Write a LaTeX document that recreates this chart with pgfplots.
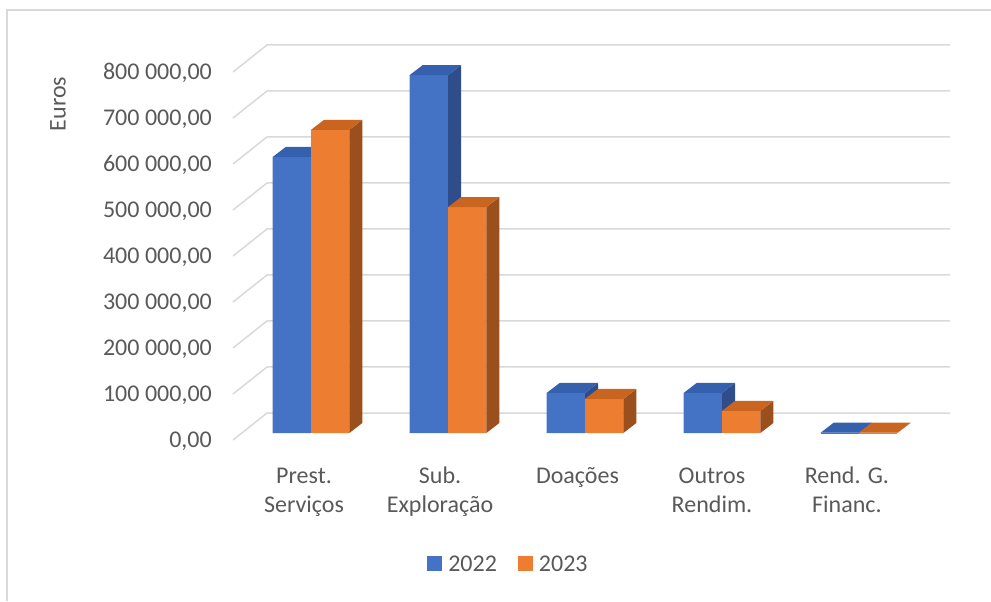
\documentclass[border=0pt]{standalone}
\usepackage{fontspec}
\setmainfont{Carlito}
\usepackage{pgfplots}
\usepackage{pgfplotstable}
\pgfplotsset{compat=1.18}
\definecolor{bfront}{HTML}{4472C4}
\definecolor{btop}{HTML}{3560AE}
\definecolor{bside}{HTML}{2E4D8A}
\definecolor{ofront}{HTML}{ED7D31}
\definecolor{otop}{HTML}{C9651F}
\definecolor{oside}{HTML}{9B4F1D}
\definecolor{textgray}{HTML}{595959}
\definecolor{gridc}{HTML}{D9D9D9}
\newcommand{\cf}{\fontsize{24}{29}\selectfont}
\newcommand{\fl}{\rule{0pt}{18pt}}

% a 3D box drawn at the top-right front corner of a bar of height \va (thousands)
\newcommand{\boxmark}[3]{%
  \pgfmathsetmacro{\hh}{\va*0.46}%
  \pgfpathrectangle{\pgfpoint{-38.36pt}{-\hh pt}}{\pgfpoint{38.36pt}{\hh pt}}%
  \pgfsetfillcolor{#1}\pgfusepath{fill}%
  \pgfpathmoveto{\pgfpoint{0pt}{0pt}}%
  \pgfpathlineto{\pgfpoint{13pt}{10pt}}%
  \pgfpathlineto{\pgfpoint{13pt}{10pt-\hh pt}}%
  \pgfpathlineto{\pgfpoint{0pt}{-\hh pt}}%
  \pgfpathclose
  \pgfsetfillcolor{#2}\pgfusepath{fill}%
  \pgfpathmoveto{\pgfpoint{-38.36pt}{0pt}}%
  \pgfpathlineto{\pgfpoint{0pt}{0pt}}%
  \pgfpathlineto{\pgfpoint{13pt}{10pt}}%
  \pgfpathlineto{\pgfpoint{-25.36pt}{10pt}}%
  \pgfpathclose
  \pgfsetfillcolor{#3}\pgfusepath{fill}%
}
\pgfdeclareplotmark{boxA}{\boxmark{bfront}{bside}{btop}}
\pgfdeclareplotmark{boxB}{\boxmark{ofront}{oside}{otop}}

% values in thousands of euros
\pgfplotstableread{
x a b
0 600 659
1 778 491
2 87 74
3 87 48
4 0.6 0.6
}\data

\begin{document}
\begin{tikzpicture}
\begin{axis}[
  x=137pt, y=0.46pt,
  xmin=-0.5693, xmax=4.6642, ymin=-15.22, ymax=843.48,
  axis line style={draw=none}, tick style={draw=none}, major tick length=0pt,
  clip=false,
  ytick={-15.22,84.78,184.78,284.78,384.78,484.78,584.78,684.78,784.78},
  yticklabels={{0,00},{100 000,00},{200 000,00},{300 000,00},{400 000,00},{500 000,00},{600 000,00},{700 000,00},{800 000,00}},
  yticklabel style={anchor=base east, inner sep=0pt, xshift=-21pt, yshift=-7.5pt},
  xtick={-0.051,0.942,1.945,2.927,3.912},
  xticklabels={{\fl Prest.\\Serviços},{\fl Sub.\\Exploração},{\fl Doações},{\fl Outros\\Rendim.},{\fl Rend. G.\\Financ.}},
  xticklabel style={align=center, anchor=north, inner sep=0pt, yshift=-25pt},
  tick label style={font=\cf, text=textgray},
  ylabel={Euros},
  ylabel style={at={(axis description cs:-0.2441,0.8506)}, anchor=center, font=\cf, text=textgray},
  legend style={at={(axis description cs:0.3828,-0.3139)}, anchor=center, draw=none, fill=none,
    font=\cf, text=textgray, inner sep=0pt, nodes={inner sep=0pt},
    /tikz/every odd column/.append style={column sep=6pt},
    /tikz/every even column/.append style={column sep=21pt}},
  legend columns=2,
]
% walls / gridlines
\addplot[gridc, line width=1.5pt, forget plot] coordinates {(-0.5693,-15.22) (-0.3212,43.48) (4.6642,43.48)};
\addplot[gridc, line width=1.5pt, forget plot] coordinates {(-0.5693,84.78) (-0.3212,143.48) (4.6642,143.48)};
\addplot[gridc, line width=1.5pt, forget plot] coordinates {(-0.5693,184.78) (-0.3212,243.48) (4.6642,243.48)};
\addplot[gridc, line width=1.5pt, forget plot] coordinates {(-0.5693,284.78) (-0.3212,343.48) (4.6642,343.48)};
\addplot[gridc, line width=1.5pt, forget plot] coordinates {(-0.5693,384.78) (-0.3212,443.48) (4.6642,443.48)};
\addplot[gridc, line width=1.5pt, forget plot] coordinates {(-0.5693,484.78) (-0.3212,543.48) (4.6642,543.48)};
\addplot[gridc, line width=1.5pt, forget plot] coordinates {(-0.5693,584.78) (-0.3212,643.48) (4.6642,643.48)};
\addplot[gridc, line width=1.5pt, forget plot] coordinates {(-0.5693,684.78) (-0.3212,743.48) (4.6642,743.48)};
\addplot[gridc, line width=1.5pt, forget plot] coordinates {(-0.5693,784.78) (-0.3212,843.48) (4.6642,843.48)};
% 2022 front faces
\addplot[ybar, bar width=0.28, bar shift=-0.14, fill=bfront, draw=none,
  legend image code/.code={\fill[bfront] (0pt,-7.5pt) rectangle (15pt,7.5pt);}]
  table[x=x, y=a]{\data};
\addlegendentry{2022}
% 2023 front faces
\addplot[ybar, bar width=0.28, bar shift=0.14, fill=ofront, draw=none,
  legend image code/.code={\fill[ofront] (0pt,-7.5pt) rectangle (15pt,7.5pt);}]
  table[x=x, y=b]{\data};
\addlegendentry{2023}
% 3D boxes (front, side, top), 2022 first so that 2023 lies in front
\addplot[forget plot, only marks, mark=boxA, visualization depends on={\thisrow{a} \as \va}]
  table[x=x, y=a]{\data};
\addplot[forget plot, only marks, mark=boxB, visualization depends on={\thisrow{b} \as \va}]
  table[x expr=\thisrow{x}+0.28, y=b]{\data};
\coordinate (BL) at (axis cs:-2.2701,-365.22);
\coordinate (TR) at (axis cs:4.9635,941.30);
\coordinate (FR) at (axis cs:-2.2190,919.57);
\end{axis}
\pgfresetboundingbox
\path[use as bounding box] (BL) rectangle (TR);
\draw[gridc, line width=1.2pt] (FR|-BL) -- (FR) -- (FR-|TR);
\end{tikzpicture}
\end{document}
